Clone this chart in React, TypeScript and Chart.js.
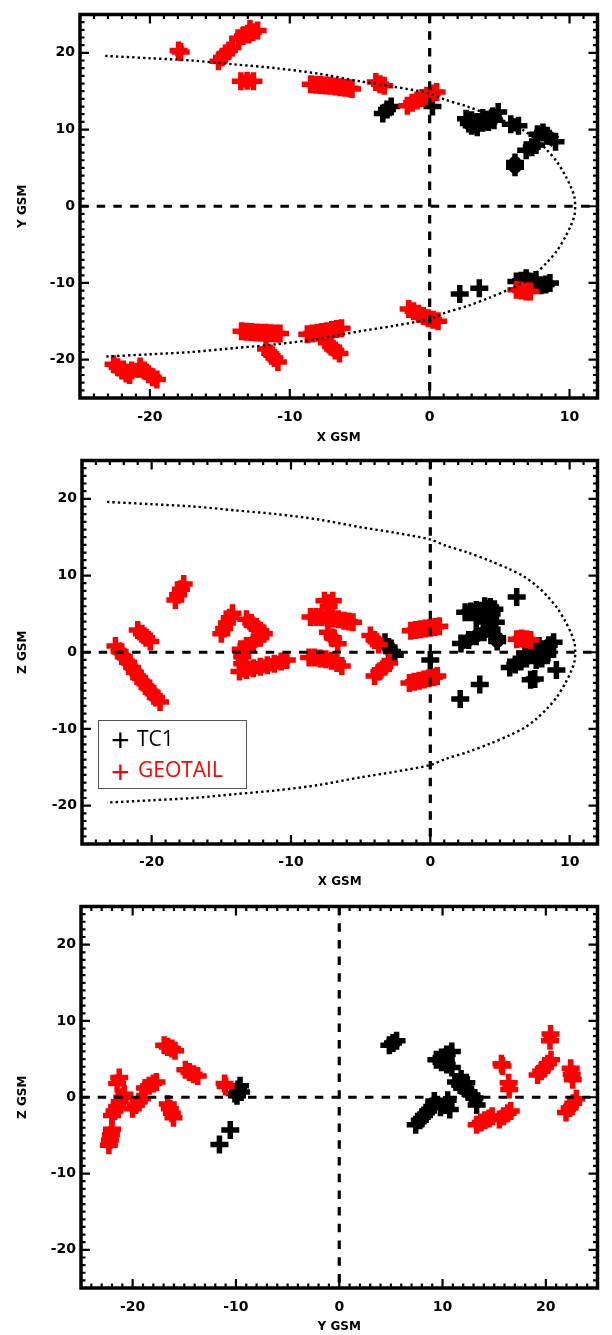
import React, { useEffect, useRef } from 'react';
import { Chart, registerables } from 'chart.js';

Chart.register(...registerables);

// ---------- tick labels ----------
const xTicksX = [-20, -10, 0, 10];
const yTicksAll = [-20, -10, 0, 10, 20];
const xTicksY = [-20, -10, 0, 10, 20];

// ---------- magnetopause (dotted) ----------
const mpX = [-23.2, -20, -17, -14, -11, -8, -5, -2.6, 0, 1.1, 2.7, 4.3, 5.6, 6.7, 7.6, 8.4, 9.1, 9.7, 10.1, 10.35, 10.4,
  10.35, 10.1, 9.7, 9.1, 8.4, 7.6, 6.7, 5.6, 4.3, 2.7, 1.1, 0, -2.6, -5, -8, -11, -14, -17, -20, -23.2];
const mpY = [19.6, 19.3, 19.0, 18.5, 18.0, 17.3, 16.3, 15.6, 14.7, 13.9, 13.0, 11.9, 10.9, 9.9, 8.7, 7.3, 5.8, 4.0, 2.5, 1.2, 0,
  -1.2, -2.5, -4.0, -5.8, -7.3, -8.7, -9.9, -10.9, -11.9, -13.0, -13.9, -14.7, -15.6, -16.3, -17.3, -18.0, -18.5, -19.0, -19.3, -19.6];

// ---------- X-Y plane (tracks of crosses) ----------
const geotailXY = [
  [[-17.95, 20.3], [-17.8, 20.1]],
  [[-15.1, 18.9], [-14.85, 19.4], [-14.6, 19.9], [-14.35, 20.3], [-14.1, 20.7]],
  [[-13.7, 21.9], [-13.35, 22.2], [-13.0, 22.5], [-12.65, 22.7], [-12.3, 22.9]],
  [[-12.95, 22.4], [-12.85, 23.1]],
  [[-13.5, 16.3], [-13.05, 16.35], [-12.6, 16.3]],
  [[-8.5, 15.9], [-8.15, 15.85], [-7.8, 15.8], [-7.45, 15.75], [-7.1, 15.7], [-6.75, 15.6], [-6.4, 15.5], [-6.05, 15.45], [-5.7, 15.4], [-5.55, 15.3]],
  [[-3.85, 16.2], [-3.55, 15.9], [-3.25, 15.7]],
  [[-1.6, 13.1], [-1.25, 13.5], [-0.9, 13.8], [-0.55, 14.1], [-0.2, 14.4], [0.15, 14.7], [0.5, 14.9]],
  [[-1.5, -13.4], [-1.15, -13.7], [-0.8, -14.0], [-0.45, -14.3], [-0.1, -14.6], [0.25, -14.8], [0.6, -15.0]],
  [[-13.45, -16.3], [-13.1, -16.35], [-12.75, -16.4], [-12.4, -16.45], [-12.05, -16.5], [-11.7, -16.5], [-11.35, -16.55], [-11.0, -16.6], [-10.7, -16.6]],
  [[-8.75, -16.7], [-8.4, -16.6], [-8.05, -16.5], [-7.7, -16.4], [-7.35, -16.3], [-7.0, -16.15], [-6.65, -16.0], [-6.3, -15.9]],
  [[-11.7, -18.6], [-11.4, -19.2], [-11.1, -19.8], [-10.85, -20.3]],
  [[-7.35, -17.8], [-7.05, -18.3], [-6.75, -18.8], [-6.45, -19.2]],
  [[-22.6, -20.6], [-22.3, -21.0], [-22.0, -21.4], [-21.7, -21.8], [-21.45, -22.0]],
  [[-21.9, -21.3], [-21.3, -21.4], [-20.7, -21.2]],
  [[-20.7, -20.9], [-20.4, -21.4], [-20.1, -21.9], [-19.8, -22.3], [-19.5, -22.6]],
  [[6.2, -10.9], [6.55, -11.0], [6.9, -11.1], [7.2, -11.1]],
];
const tc1XY = [
  [[-3.35, 12.1], [-3.05, 12.6], [-2.75, 13.0]],
  [[0.2, 13.0]],
  [[2.6, 11.4], [3.0, 11.2], [3.4, 11.0], [3.8, 10.9], [4.2, 11.0], [4.6, 11.2]],
  [[2.8, 10.8], [3.0, 10.5], [3.4, 10.3]],
  [[3.8, 11.5], [4.5, 11.7], [4.9, 12.3]],
  [[5.8, 10.7], [6.35, 10.5]],
  [[7.7, 9.4], [8.1, 9.6], [8.4, 9.2], [9.0, 8.4]],
  [[6.9, 7.3], [7.3, 7.7], [7.6, 8.0]],
  [[6.1, 5.7], [6.1, 5.1]],
  [[6.2, -9.8], [6.55, -9.7], [6.9, -9.8], [7.25, -10.0], [7.6, -10.2], [7.95, -10.3], [8.3, -10.2], [8.6, -10.0]],
  [[6.9, -9.4], [7.6, -9.6]],
  [[2.15, -11.45]],
  [[3.55, -10.7]],
];

// ---------- X-Z plane ----------
const geotailXZ = [
  [[-18.3, 6.8], [-18.1, 7.5], [-17.9, 8.2], [-17.7, 8.9]],
  [[-21.0, 2.9], [-20.7, 2.4], [-20.4, 1.9], [-20.1, 1.4]],
  [[-22.6, 0.8], [-22.3, 0.1], [-22.0, -0.6], [-21.7, -1.3], [-21.4, -2.0], [-21.2, -2.6]],
  [[-20.9, -3.3], [-20.6, -3.9], [-20.3, -4.6], [-20.0, -5.2], [-19.7, -5.9], [-19.4, -6.5]],
  [[-15.0, 2.4], [-14.8, 3.1], [-14.6, 3.8], [-14.4, 4.5], [-14.2, 5.1]],
  [[-13.2, 4.3], [-12.85, 3.8], [-12.5, 3.3], [-12.2, 2.8], [-11.95, 2.4]],
  [[-12.2, 1.9], [-12.7, 1.3], [-13.2, 0.8], [-13.6, 0.4]],
  [[-13.6, 0.3], [-13.5, -0.6], [-13.5, -1.5]],
  [[-13.7, -2.5], [-13.2, -2.3], [-12.7, -2.1], [-12.2, -1.9], [-11.7, -1.7], [-11.2, -1.5], [-10.7, -1.2], [-10.3, -1.0]],
  [[-8.7, -0.7], [-8.3, -0.7], [-7.9, -0.8], [-7.5, -0.9], [-7.1, -1.1], [-6.7, -1.4], [-6.35, -1.8]],
  [[-8.6, 4.6], [-8.2, 4.6], [-7.8, 4.6], [-7.4, 4.5], [-7.0, 4.4], [-6.6, 4.3], [-6.2, 4.1], [-5.85, 4.0], [-5.55, 3.9]],
  [[-7.6, 6.7], [-7.0, 6.7]],
  [[-7.3, 6.0]],
  [[-7.35, 2.6], [-7.0, 1.9], [-6.65, 1.1]],
  [[-4.3, 2.2], [-4.0, 1.6], [-3.7, 1.0]],
  [[-4.0, -3.1], [-3.65, -2.5], [-3.3, -1.9], [-2.95, -1.4]],
  [[-1.4, 2.8], [-1.05, 2.9], [-0.7, 3.0], [-0.35, 3.1], [0, 3.2], [0.35, 3.3], [0.65, 3.4]],
  [[-1.5, -4.0], [-1.15, -3.85], [-0.8, -3.7], [-0.45, -3.55], [-0.1, -3.4], [0.25, -3.25], [0.5, -3.1]],
  [[6.2, 1.7], [6.55, 1.8], [6.9, 1.7], [7.2, 1.6]],
];
const tc1XZ = [
  [[-3.25, 1.3], [-3.0, 0.7], [-2.75, 0.1], [-2.55, -0.4]],
  [[0, -1.0]],
  [[2.15, -6.1]],
  [[3.55, -4.2]],
  [[2.5, 5.2], [2.9, 5.3], [3.3, 5.5], [3.7, 5.4], [4.1, 5.2], [4.4, 5.0]],
  [[3.9, 6.0], [4.3, 5.9], [4.6, 5.6]],
  [[3.3, 4.4], [3.8, 4.5], [4.3, 4.3], [4.7, 3.9]],
  [[2.2, 1.15], [2.75, 1.6], [3.3, 2.1], [3.85, 2.6], [4.4, 3.0]],
  [[4.8, 1.9], [4.8, 1.4]],
  [[6.2, 7.2]],
  [[5.7, -2.0], [6.1, -1.6], [6.5, -1.2], [6.9, -0.8], [7.3, -0.4], [7.7, 0.0], [8.1, 0.4], [8.5, 0.9], [8.85, 1.3]],
  [[6.8, -0.1], [7.3, 0.4], [7.8, 0.8]],
  [[7.6, -1.0], [8.0, -0.8], [8.4, -0.4]],
  [[7.2, -3.6], [7.5, -3.5]],
  [[9.05, -2.3]],
];

// ---------- Y-Z plane ----------
const geotailYZ = [
  [[-22.3, -6.3], [-22.2, -5.6], [-22.1, -4.9], [-22.0, -4.2]],
  [[-22.0, -2.4], [-21.75, -1.8], [-21.5, -1.2], [-21.25, -0.6], [-21.0, 0.0], [-20.8, 0.4]],
  [[-21.5, 1.8], [-21.3, 2.6]],
  [[-20.0, -1.5], [-19.7, -1.0], [-19.4, -0.6], [-19.1, -0.2]],
  [[-18.8, 1.2], [-18.4, 1.5], [-18.0, 1.8], [-17.7, 2.0]],
  [[-16.95, 6.8], [-16.6, 6.6], [-16.2, 6.4], [-15.9, 6.1]],
  [[-16.6, -0.9], [-16.4, -1.5], [-16.2, -2.1], [-16.05, -2.7]],
  [[-14.9, 3.6], [-14.5, 3.3], [-14.1, 3.0], [-13.7, 2.8]],
  [[-11.1, 1.8], [-11.0, 1.4]],
  [[13.3, -3.6], [13.7, -3.3], [14.1, -3.0], [14.5, -2.8], [14.8, -2.5]],
  [[15.5, -2.9], [15.9, -2.5], [16.3, -2.1], [16.6, -1.8]],
  [[15.7, 4.4], [15.8, 4.1]],
  [[16.4, 1.9], [16.45, 1.0]],
  [[19.2, 2.9], [19.55, 3.4], [19.9, 3.9], [20.2, 4.4], [20.5, 4.9]],
  [[20.45, 8.3], [20.4, 7.4]],
  [[22.4, 3.8], [22.5, 3.0], [22.6, 2.3]],
  [[21.95, -2.0], [22.3, -1.4], [22.65, -0.8], [22.95, -0.2]],
];
const tc1YZ = [
  [[-10.1, 0.5], [-9.8, 1.0], [-9.6, 1.5]],
  [[-9.9, 0.2], [-9.5, 0.7]],
  [[-11.6, -6.2]],
  [[-10.55, -4.3]],
  [[4.85, 6.8], [5.2, 7.1], [5.55, 7.4]],
  [[9.4, 4.9], [9.9, 5.2], [10.4, 5.6], [10.9, 6.0]],
  [[9.9, 4.6], [10.4, 4.3], [10.9, 3.9]],
  [[11.3, 2.0], [11.7, 1.6], [12.1, 1.2], [12.5, 0.7], [12.8, 0.3], [13.1, -0.1], [13.3, -1.0]],
  [[11.8, 2.4], [12.3, 1.9]],
  [[7.4, -3.6], [7.8, -3.0], [8.2, -2.4], [8.6, -1.8], [9.0, -1.2], [9.2, -0.5]],
  [[9.8, -1.3], [10.3, -1.0], [10.7, -1.6]],
  [[10.5, -0.4]],
];

const RED = '#ff0000';
const BLACK = '#000000';
const FONT = "'DejaVu Sans', 'Liberation Sans', Arial, sans-serif";

const toPts = (arr: number[][]) => arr.map(([x, y]) => ({ x, y }));
const curvePts = () => mpX.map((x, i) => ({ x, y: mpY[i] }));

const idlFrame = {
  id: 'idlFrame',
  afterDatasetsDraw(chart: any) {
    const { ctx, chartArea: a, scales } = chart;
    const px0 = scales.x.getPixelForValue(0);
    const py0 = scales.y.getPixelForValue(0);
    ctx.save();
    ctx.strokeStyle = '#000';
    ctx.lineWidth = 3.2;
    ctx.lineCap = 'butt';
    ctx.setLineDash([8.5, 8.2]);
    ctx.beginPath();
    ctx.moveTo(a.left, py0);
    ctx.lineTo(a.right, py0);
    ctx.stroke();
    ctx.beginPath();
    ctx.moveTo(px0, a.top);
    ctx.lineTo(px0, a.bottom);
    ctx.stroke();
    ctx.restore();
  },
  afterDraw(chart: any) {
    const { ctx, chartArea: a, scales } = chart;
    const xs = scales.x, ys = scales.y;
    ctx.save();
    ctx.strokeStyle = '#000';
    ctx.setLineDash([]);
    ctx.lineWidth = 2.2;
    ctx.beginPath();
    for (let v = Math.ceil(xs.min); v <= Math.floor(xs.max); v++) {
      if (v === xs.min || v === xs.max) continue;
      const p = xs.getPixelForValue(v);
      const len = v % 10 === 0 ? 9 : 4.5;
      ctx.moveTo(p, a.bottom); ctx.lineTo(p, a.bottom - len);
      ctx.moveTo(p, a.top); ctx.lineTo(p, a.top + len);
    }
    for (let v = Math.ceil(ys.min); v <= Math.floor(ys.max); v++) {
      if (v === ys.min || v === ys.max) continue;
      const p = ys.getPixelForValue(v);
      const len = v % 10 === 0 ? 9 : 4.5;
      ctx.moveTo(a.left, p); ctx.lineTo(a.left + len, p);
      ctx.moveTo(a.right, p); ctx.lineTo(a.right - len, p);
    }
    ctx.stroke();
    ctx.lineWidth = 3.5;
    ctx.strokeRect(a.left, a.top, a.right - a.left, a.bottom - a.top);
    ctx.restore();
  },
};

type PanelProps = {
  top: number;
  height: number;
  padTop: number;
  padRight: number;
  axisH: number;
  axisW: number;
  xMin: number;
  xMax: number;
  xTicks: number[];
  xTitle: string;
  yTitle: string;
  tickPad: number;
  titlePad: number;
  geo: number[][][];
  tc1: number[][][];
  curve: boolean;
};

function trackDatasets(tracks: number[][][], color: string, label: string, order: number) {
  return tracks.map((t) => ({
    label,
    data: toPts(t),
    showLine: t.length > 1,
    borderColor: color,
    backgroundColor: color,
    borderWidth: 13,
    borderCapStyle: 'butt',
    borderJoinStyle: 'round',
    tension: 0,
    pointStyle: 'cross',
    pointRadius: 9,
    pointHoverRadius: 9,
    pointBorderWidth: 5.5,
    pointBorderColor: color,
    pointBackgroundColor: color,
    order,
  }));
}

function Panel(p: PanelProps) {
  const ref = useRef<HTMLCanvasElement | null>(null);
  useEffect(() => {
    if (!ref.current) return;
    const datasets: any[] = [];
    if (p.curve) {
      datasets.push({
        label: 'magnetopause',
        data: curvePts(),
        showLine: true,
        pointRadius: 0,
        borderColor: BLACK,
        borderWidth: 2.4,
        borderDash: [2.4, 3],
        tension: 0.3,
        fill: false,
        order: 0,
      });
    }
    datasets.push(...trackDatasets(p.geo, RED, 'GEOTAIL', 1));
    datasets.push(...trackDatasets(p.tc1, BLACK, 'TC1', 2));
    const tickFont = { family: FONT, size: 14, weight: 'bold' as const };
    const titleFont = { family: FONT, size: 12, weight: 'bold' as const };
    const chart = new Chart(ref.current, {
      type: 'scatter',
      data: { datasets },
      options: {
        animation: false,
        responsive: false,
        devicePixelRatio: 1,
        events: [],
        layout: { padding: { top: p.padTop, right: p.padRight, left: 0, bottom: 0 } },
        plugins: { legend: { display: false }, tooltip: { enabled: false } },
        scales: {
          x: {
            type: 'linear',
            position: 'bottom',
            min: p.xMin,
            max: p.xMax,
            grid: { display: false, drawTicks: false },
            border: { display: false },
            ticks: { font: tickFont, color: '#000', padding: p.tickPad, maxRotation: 0, autoSkip: false },
            afterBuildTicks: (s: any) => { s.ticks = p.xTicks.map((v) => ({ value: v })); },
            afterFit: (s: any) => { s.height = p.axisH; },
            title: { display: true, text: p.xTitle, font: titleFont, color: '#000', padding: { top: 0, bottom: p.titlePad } },
          },
          y: {
            type: 'linear',
            position: 'left',
            min: -25,
            max: 25,
            grid: { display: false, drawTicks: false },
            border: { display: false },
            ticks: { font: tickFont, color: '#000', padding: 5, autoSkip: false },
            afterBuildTicks: (s: any) => { s.ticks = yTicksAll.map((v) => ({ value: v })); },
            afterFit: (s: any) => { s.width = p.axisW; },
            title: { display: true, text: p.yTitle, font: titleFont, color: '#000', padding: { top: 16, bottom: 0 } },
          },
        },
      } as any,
      plugins: [idlFrame],
    });
    return () => chart.destroy();
  }, []);
  return (
    <canvas
      ref={ref}
      width={612}
      height={p.height}
      style={{ position: 'absolute', left: 0, top: p.top, width: 612, height: p.height }}
    />
  );
}

export default function App() {
  return (
    <div style={{ position: 'absolute', left: 0, top: 0, width: 612, height: 1335, background: '#fff', overflow: 'hidden' }}>
      <Panel top={0} height={446} padTop={9} padRight={3} axisH={48} axisW={80} xMin={-25} xMax={12} xTicks={xTicksX}
        xTitle="X GSM" yTitle="Y GSM" tickPad={11} titlePad={1} geo={geotailXY} tc1={tc1XY} curve={true} />
      <Panel top={446} height={446} padTop={8} padRight={2} axisH={48} axisW={82} xMin={-25} xMax={12} xTicks={xTicksX}
        xTitle="X GSM" yTitle="Z GSM" tickPad={9.8} titlePad={3} geo={geotailXZ} tc1={tc1XZ} curve={true} />
      <Panel top={892} height={443} padTop={8} padRight={2} axisH={47} axisW={81} xMin={-25} xMax={25} xTicks={xTicksY}
        xTitle="Y GSM" yTitle="Z GSM" tickPad={11} titlePad={1} geo={geotailYZ} tc1={tc1YZ} curve={false} />
      <div style={{ position: 'absolute', left: 98, top: 720, width: 149, height: 69, border: '1.3px solid #555', background: '#fff', boxSizing: 'border-box' }} />
      <span style={{ position: 'absolute', left: 111, top: 724, fontFamily: "'Liberation Sans', Arial, sans-serif", fontSize: 32, lineHeight: '32px', color: '#000' }}>+</span>
      <span style={{ position: 'absolute', left: 137, top: 728.4, fontFamily: "'Open Sans', sans-serif", fontSize: 21, lineHeight: '21px', color: '#000' }}>TC1</span>
      <span style={{ position: 'absolute', left: 111, top: 756.4, fontFamily: "'Liberation Sans', Arial, sans-serif", fontSize: 32, lineHeight: '32px', color: RED }}>+</span>
      <span style={{ position: 'absolute', left: 138, top: 759.4, fontFamily: "'Open Sans', sans-serif", fontSize: 21, lineHeight: '21px', color: RED }}>GEOTAIL</span>
    </div>
  );
}
